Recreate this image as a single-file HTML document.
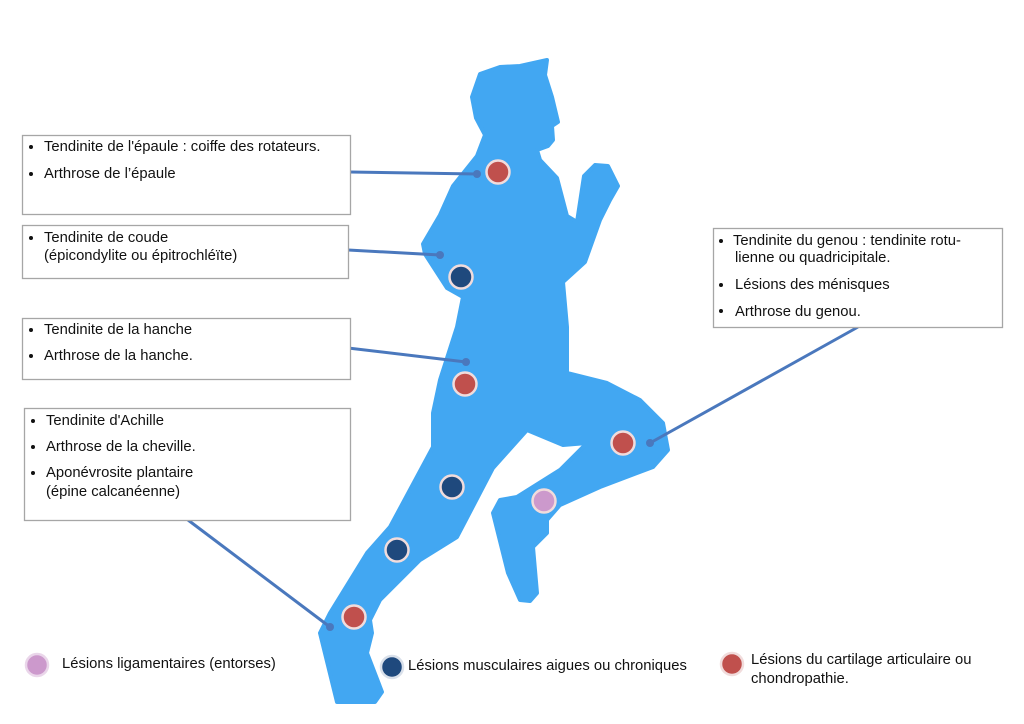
<!DOCTYPE html>
<html><head><meta charset="utf-8"><style>
html,body{margin:0;padding:0;background:#fff}
svg{display:block}
text{font-family:"Liberation Sans",sans-serif;font-size:14.8px;fill:#111}
</style></head><body>
<svg width="1024" height="724" viewBox="0 0 1024 724" xmlns="http://www.w3.org/2000/svg">
<path fill="#42a7f2" stroke="#42a7f2" stroke-width="4" stroke-linejoin="round" d="M480,74 L500,67 L520,66 L547,60 L545,75 L552,97 L558,122 L552,126 L553,140 L548,146 L537,150 L540,160 L557,178 L567,216 L577,222 L584,176 L595,165 L608,166 L618,186 L610,200 L600,220 L585,262 L563,282 L567,327 L567,373 L607,383 L640,400 L663,423 L668,450 L653,467 L600,487 L560,505 L547,520 L547,533 L533,547 L537,593 L530,601 L520,600 L508,573 L493,513 L500,500 L517,497 L560,470 L587,443 L563,445 L527,430 L493,468 L457,537 L420,560 L380,600 L370,620 L372,633 L367,653 L382,692 L375,702 L337,702 L320,633 L330,613 L367,553 L390,527 L433,447 L433,413 L440,380 L457,327 L463,297 L447,288 L425,254 L423,244 L440,215 L453,186 L477,156 L485,135 L476,118 L472,97 Z"/>
<g stroke="#4a78bd" stroke-width="3" fill="none">
<line x1="350" y1="172" x2="477" y2="174"/>
<line x1="348" y1="250" x2="440" y2="255"/>
<line x1="348" y1="348" x2="466" y2="362"/>
<line x1="188" y1="520" x2="330" y2="627"/>
<line x1="858" y1="327" x2="650" y2="443"/>
</g>
<g fill="#4a78bd">
<circle cx="477" cy="174" r="4"/><circle cx="440" cy="255" r="4"/><circle cx="466" cy="362" r="4"/><circle cx="330" cy="627" r="4"/><circle cx="650" cy="443" r="4"/>
</g>
<g stroke="#f1dcdc" stroke-width="2.5">
<circle cx="498" cy="172" r="11.5" fill="#c0504d"/>
<circle cx="461" cy="277" r="11.5" fill="#1f497d"/>
<circle cx="465" cy="384" r="11.5" fill="#c0504d"/>
<circle cx="623" cy="443" r="11.5" fill="#c0504d"/>
<circle cx="544" cy="501" r="11.5" fill="#cc99cc"/>
<circle cx="452" cy="487" r="11.5" fill="#1f497d"/>
<circle cx="397" cy="550" r="11.5" fill="#1f497d"/>
<circle cx="354" cy="617" r="11.5" fill="#c0504d"/>
</g>
<g fill="#fff" stroke="#a6a6a6" stroke-width="1.3">
<rect x="22.5" y="135.5" width="328" height="79"/>
<rect x="22.5" y="225.5" width="326" height="53"/>
<rect x="22.5" y="318.5" width="328" height="61"/>
<rect x="24.5" y="408.5" width="326" height="112"/>
<rect x="713.5" y="228.5" width="289" height="99"/>
</g>
<g fill="#111">
<circle cx="31" cy="147" r="2"/><circle cx="31" cy="174" r="2"/>
<circle cx="31" cy="238" r="2"/>
<circle cx="31" cy="330" r="2"/><circle cx="31" cy="356" r="2"/>
<circle cx="33" cy="421" r="2"/><circle cx="33" cy="447" r="2"/><circle cx="33" cy="473" r="2"/>
<circle cx="721" cy="241" r="2"/><circle cx="721" cy="285" r="2"/><circle cx="721" cy="311" r="2"/>
</g>
<text x="44" y="151">Tendinite de l'épaule : coiffe des rotateurs.</text>
<text x="44" y="178">Arthrose de l’épaule</text>
<text x="44" y="242">Tendinite de coude</text>
<text x="44" y="260">(épicondylite ou épitrochléïte)</text>
<text x="44" y="334">Tendinite de la hanche</text>
<text x="44" y="360">Arthrose de la hanche.</text>
<text x="46" y="425">Tendinite d'Achille</text>
<text x="46" y="451">Arthrose de la cheville.</text>
<text x="46" y="477">Aponévrosite plantaire</text>
<text x="46" y="496">(épine calcanéenne)</text>
<text x="733" y="245">Tendinite du genou : tendinite rotu-</text>
<text x="735" y="262">lienne ou quadricipitale.</text>
<text x="735" y="289">Lésions des ménisques</text>
<text x="735" y="316">Arthrose du genou.</text>
<circle cx="37" cy="665" r="11" fill="#cc99cc" stroke="#ead6ea" stroke-width="2.5"/>
<text x="62" y="668">Lésions ligamentaires (entorses)</text>
<circle cx="392" cy="667" r="11" fill="#1f497d" stroke="#d9e0ea" stroke-width="2.5"/>
<text x="408" y="670">Lésions musculaires aigues ou chroniques</text>
<circle cx="732" cy="664" r="11" fill="#c0504d" stroke="#f1dcdc" stroke-width="2.5"/>
<text x="751" y="664">Lésions du cartilage articulaire ou</text>
<text x="751" y="683">chondropathie.</text>
</svg>
</body></html>
